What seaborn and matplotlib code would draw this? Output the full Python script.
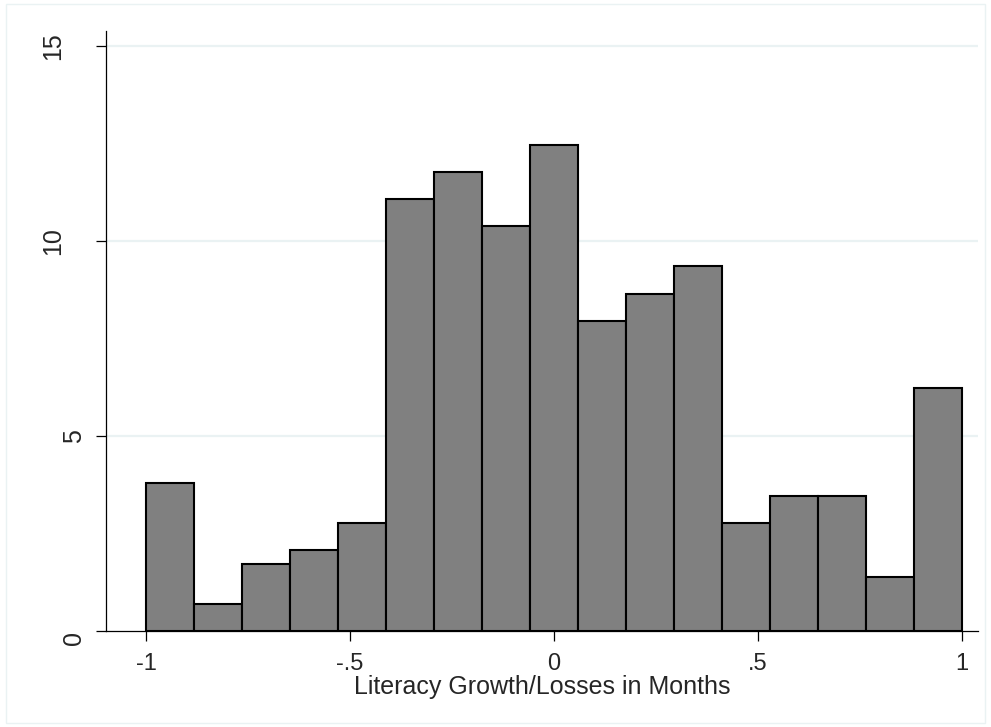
import numpy as np
import pandas as pd
import seaborn as sns
import matplotlib.pyplot as plt
from matplotlib.patches import Rectangle
from matplotlib.transforms import ScaledTranslation

# histogram: 17 equal bins from -1 to 1
n_bins = 17
density = [3.79, 0.68, 1.72, 2.07, 2.77, 11.07, 11.76, 10.38, 12.47,
           7.95, 8.65, 9.36, 2.77, 3.46, 3.46, 1.38, 6.22]
xticks = [-1, -0.5, 0, 0.5, 1]
xticklabels = ["-1", "-.5", "0", ".5", "1"]
yticks = [0, 5, 10, 15]

edges = np.linspace(-1, 1, n_bins + 1)
df = pd.DataFrame({"mid": (edges[:-1] + edges[1:]) / 2, "density": density})

sns.set_style("white")
plt.rcParams['font.family'] = ['Liberation Sans', 'DejaVu Sans']

fig = plt.figure(figsize=(9.91, 7.27), dpi=100)
ax = fig.add_axes([106 / 991, 1 - 631 / 727, (978 - 106) / 991, (631 - 31) / 727])

for y in yticks[1:]:
    ax.axhline(y, color="#EAF2F3", lw=1.6, zorder=0)

sns.histplot(data=df, x="mid", weights="density", bins=n_bins, binrange=(-1, 1),
             stat="count", color="#808080", edgecolor="black", linewidth=1.5,
             alpha=1, ax=ax)

ax.set_xlim(-1.098, 1.039)
ax.set_ylim(0, 15.38)
ax.set_xticks(xticks)
ax.set_xticklabels(xticklabels)
ax.set_yticks(yticks)
ax.set_yticklabels([str(t) for t in yticks], rotation=90, va="center")
ax.tick_params(axis="both", direction="out", length=7, width=0.9, color="black",
               labelsize=17, bottom=True, left=True)
ax.tick_params(axis="y", labelsize=18, pad=3.5)
ax.tick_params(axis="x", pad=8.5)
ax.set_xlabel("Literacy Growth/Losses in Months", fontsize=18, labelpad=0)
ax.set_ylabel("")
ax.grid(False)

# stata places the two-digit vertical labels further left, and nudges "0" down
for lab in ax.get_yticklabels():
    txt = lab.get_text()
    dx = -26 if len(txt) > 1 else -5
    dy = -7 if txt == "0" else 0
    lab.set_transform(lab.get_transform() + ScaledTranslation(dx / 100, dy / 100, fig.dpi_scale_trans))

sns.despine(ax=ax)
for s in ["left", "bottom"]:
    ax.spines[s].set_color("black")
    ax.spines[s].set_linewidth(0.9)

fig.patches.append(Rectangle((6 / 991, 1 - 723 / 727), 979 / 991, 719 / 727,
                             transform=fig.transFigure, fill=False,
                             edgecolor="#EAF2F3", lw=1))

fig.savefig("out.png", dpi=100)
